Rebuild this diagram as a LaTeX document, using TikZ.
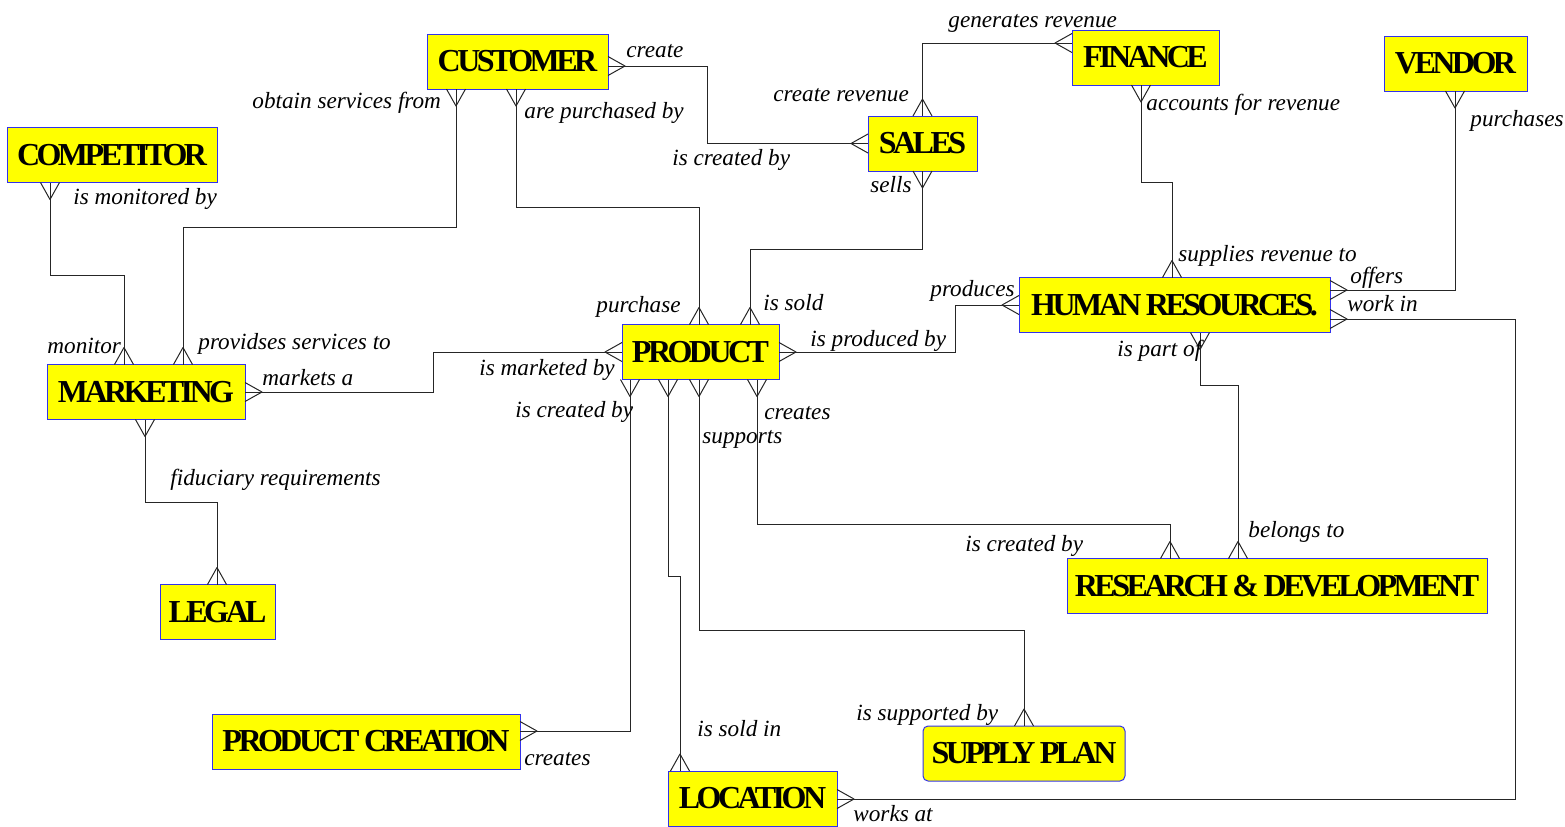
\documentclass[tikz,border=0pt]{standalone}
\usepackage{fontspec}
\usepackage{tikz}
\usetikzlibrary{arrows.meta}
\setmainfont{Liberation Serif}
\newfontfamily\entfont{Liberation Serif}[LetterSpace=-11]
\definecolor{entyellow}{RGB}{255,255,0}
\definecolor{entblue}{RGB}{50,50,235}

% crow's foot end
\pgfdeclarearrow{
  name = Crow,
  parameters = {\the\pgfarrowlength,\the\pgfarrowwidth},
  setup code = {
    \pgfarrowssettipend{0pt}
    \pgfarrowssetlineend{0pt}
    \pgfarrowssetbackend{-\pgfarrowlength}
    \pgfarrowssetvisualbackend{-\pgfarrowlength}
    \pgfarrowssavethe\pgfarrowlength
    \pgfarrowssavethe\pgfarrowwidth
  },
  drawing code = {
    \pgfsetdash{}{0pt}
    \pgfsetroundjoin
    \pgfpathmoveto{\pgfqpoint{0pt}{.5\pgfarrowwidth}}
    \pgfpathlineto{\pgfqpoint{-\pgfarrowlength}{0pt}}
    \pgfpathlineto{\pgfqpoint{0pt}{-.5\pgfarrowwidth}}
    \pgfusepathqstroke
  },
  defaults = {length=8.5pt, width=9.5pt}
}

\tikzset{
  entity/.style={draw=entblue, fill=entyellow, line width=0.5pt, inner sep=0pt,
    outer sep=0pt, minimum height=27.5pt,
    font=\entfont\bfseries\fontsize{16}{16}\selectfont},
  role/.style={anchor=base west, inner sep=0pt,
    font=\itshape\fontsize{11.6}{13}\selectfont},
  rel/.style={draw=black!85, line width=0.5pt, arrows={Crow-Crow}}
}

\begin{document}
\begin{tikzpicture}[x=0.5pt,y=-0.5pt]
\useasboundingbox (0,0) rectangle (1565,826);

% entities
\node[entity, minimum width=90.5pt] (customer) at (517.5,61.5) {CUSTOMER};
\node[entity, minimum width=73.5pt] (finance) at (1145.5,57.5) {FINANCE};
\node[entity, minimum width=54.5pt] (sales) at (922.5,143.5) {SALES};
\node[entity, minimum width=71.5pt] (vendor) at (1455.5,63.5) {VENDOR};
\node[entity, minimum width=105pt] (competitor) at (112,155) {COMPETITOR};
\node[entity, minimum width=99pt] (marketing) at (146,392) {MARKETING};
\node[entity, minimum width=78.5pt] (product) at (700.5,352) {PRODUCT};
\node[entity, minimum width=155.5pt] (hr) at (1174.5,305) {HUMAN RESOURCES.};
\node[entity, minimum width=210pt] (rd) at (1277,586) {RESEARCH \& DEVELOPMENT};
\node[entity, minimum width=57.5pt] (legal) at (217.5,612) {LEGAL};
\node[entity, minimum width=154pt] (pcreation) at (366,741.5) {PRODUCT CREATION};
\node[entity, minimum width=84.5pt] (location) at (752.5,798.5) {LOCATION};
\node[entity, minimum width=101pt, rounded corners=2.5pt] (supply) at (1024,753.5) {SUPPLY PLAN};

% relationships
\draw[rel] (customer.east |- 0,66) -- (707,66) |- (sales.west);
\draw[rel] (customer.south -| 456,0) |- (183,227) -- (marketing.north -| 183,0);
\draw[rel] (customer.south -| 516,0) |- (699,207) -- (product.north -| 699,0);
\draw[rel] (finance.west |- 0,43) -| (sales.north);
\draw[rel] (finance.south -| 1141,0) |- (1172,182) -- (hr.north -| 1172,0);
\draw[rel] (sales.south) |- (750,249) -- (product.north -| 750,0);
\draw[rel] (vendor.south -| 1455,0) |- (hr.east |- 0,290);
\draw[rel] (competitor.south -| 50,0) |- (124,275) -- (marketing.north -| 124,0);
\draw[rel] (marketing.east) -| (433,352) -- (product.west);
\draw[rel] (marketing.south -| 145,0) |- (217,502) -- (legal.north -| 217,0);
\draw[rel] (product.east) -| (955,305) -- (hr.west);
\draw[rel] (product.south -| 630,0) |- (pcreation.east |- 0,731);
\draw[rel] (product.south -| 668,0) |- (680,576) -- (location.north -| 680,0);
\draw[rel] (product.south -| 699,0) |- (1024,630) -- (supply.north);
\draw[rel] (product.south -| 757,0) |- (1170,524) -- (rd.north -| 1170,0);
\draw[rel] (hr.south -| 1200,0) |- (1238,385) -- (rd.north -| 1238,0);
\draw[rel] (hr.east |- 0,319) -| (1515,799) -- (location.east |- 0,799);

% role names
\node[role] (lcreate) at (626,57) {create};
\node[role] (lcreatedby) at (672,165) {is created by};
\node[role] (lobtain) at (252,108) {obtain services from};
\node[role] (lprovide) at (198,349) {providses services to};
\node[role] (lpurchasedby) at (524,118) {are purchased by};
\node[role] (lpurchase) at (596,312) {purchase};
\node[role] (lissold) at (763,310) {is sold};
\node[role] (lgenerates) at (948,27) {generates revenue};
\node[role] (lcreaterev) at (773,101) {create revenue};
\node[role] (laccounts) at (1146,110) {accounts for revenue};
\node[role] (lsells) at (870,192) {sells};
\node[role] (lsupplies) at (1178,261) {supplies revenue to};
\node[role] (lproduces) at (930,296) {produces};
\node[role] (loffers) at (1350,283) {offers};
\node[role] (lworkin) at (1347,311) {work in};
\node[role] (lpurchases) at (1470,126) {purchases};
\node[role] (lmonitored) at (73,204) {is monitored by};
\node[role] (lmonitor) at (47,353) {monitor};
\node[role] (lmarkets) at (262,385) {markets a};
\node[role] (lmarketed) at (479,375) {is marketed by};
\node[role] (lproduced) at (810,346) {is produced by};
\node[role] (lpartof) at (1117,356) {is part of};
\node[role] (lpcreated) at (515,417) {is created by};
\node[role] (lcreates) at (764,419) {creates};
\node[role] (lsupports) at (702,443) {supports};
\node[role] (lfiduciary) at (170,485) {fiduciary requirements};
\node[role] (lrdcreated) at (965,551) {is created by};
\node[role] (lbelongs) at (1248,537) {belongs to};
\node[role] (lsupported) at (856,720) {is supported by};
\node[role] (lsoldin) at (697,736) {is sold in};
\node[role] (lpccreates) at (524,765) {creates};
\node[role] (lworksat) at (853,821) {works at};
\end{tikzpicture}
\end{document}
